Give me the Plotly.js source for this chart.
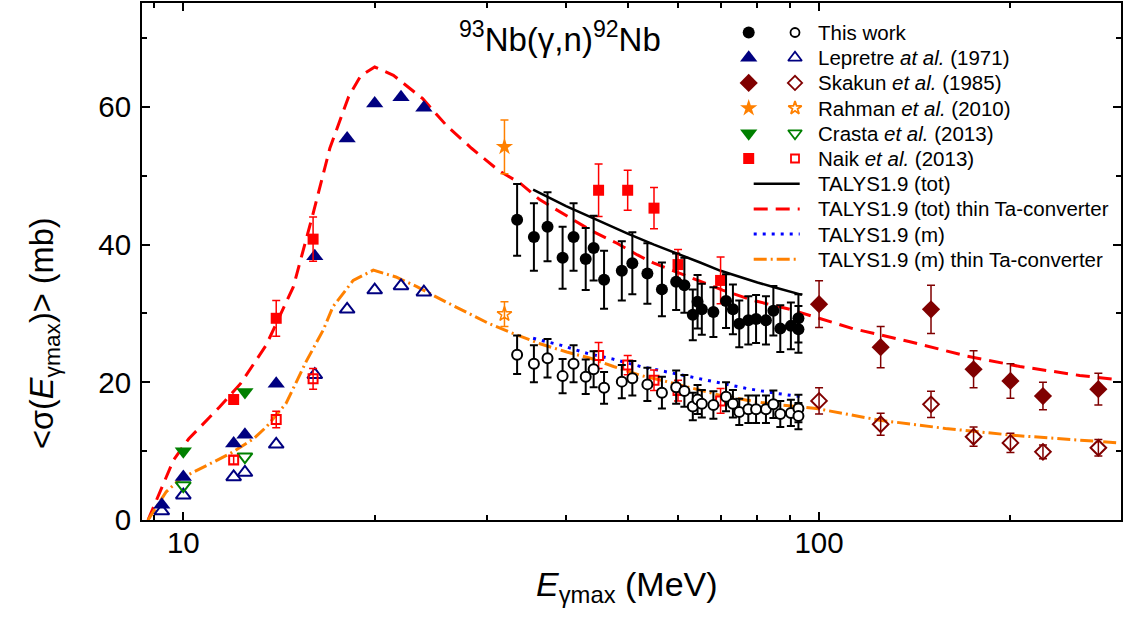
<!DOCTYPE html>
<html>
<head>
<meta charset="utf-8">
<script src="https://cdn.plot.ly/plotly-3.0.1.min.js"></script>
<style>html,body{margin:0;padding:0;background:#fff;}#chart{width:1126px;height:622px;}</style>
</head>
<body>
<div id="chart"></div>
<script>
// ---------------- data ----------------
const thisWorkE = [33.5,35.6,37.4,39.5,41.1,42.95,44.2,45.9,48.95,50.85,53.7,56.6,59.6,61.4,63.3,64.4,65.4,68.2,71.4,73.2,74.9,77.4,79.6,82.5,84.75,86.9,90.3,92.8,92.8];
const thisWorkTot = [43.6,41.1,42.6,38.1,41.1,37.9,39.5,34.9,36.2,37.3,35.8,33.5,34.6,34.1,29.8,31.7,30.6,30.2,31.8,30.6,28.5,29.0,29.2,29.0,30.4,27.8,28.2,29.3,27.7];
const thisWorkTotErr = [5.2,4.9,5.0,4.5,4.9,4.5,4.7,4.2,4.3,4.5,4.4,3.9,4.1,4.0,3.7,3.9,3.7,3.6,3.9,3.6,3.4,3.5,3.5,3.5,3.6,3.4,3.4,3.5,3.4];
const thisWorkM = [24.0,22.7,23.5,20.9,22.7,20.8,21.9,19.2,20.1,20.6,19.7,18.5,19.3,18.75,16.5,17.5,16.9,16.7,17.9,16.9,15.7,16.1,16.1,16.1,16.8,15.4,15.55,16.2,15.1];
const thisWorkMErr = [2.8,2.7,2.8,2.5,2.7,2.5,2.6,2.3,2.4,2.5,2.4,2.3,2.4,2.3,2.0,2.1,2.0,2.0,2.1,2.0,1.9,2.0,2.0,2.0,2.0,1.9,1.9,2.0,1.9];

const lepretreE = [9.25,10,12,12.5,14,16.1,18.1,20,22,23.9];
const lepretreTot = [2.2,6.25,11.1,12.4,19.8,38.3,55.4,60.5,61.4,59.9];
const lepretreM = [1.3,3.6,6.25,6.9,11.0,21.1,30.6,33.4,34.0,33.1];

const skakunE = [100,125,150,175,200,225,275];
const skakunTot = [31.35,25.1,30.6,21.9,20.2,18.0,19.0];
const skakunTotErr = [3.4,3.0,3.5,2.7,2.5,2.0,2.3];
const skakunM = [17.3,13.9,16.8,12.1,11.2,9.9,10.5];
const skakunMErr = [1.9,1.6,1.9,1.4,1.4,1.0,1.2];

const rahmanE = [32];
const rahmanTot = [54.2];
const rahmanTotErr = [3.9];
const rahmanM = [29.9];
const rahmanMErr = [1.8];

const crastaE = [10,12.5];
const crastaTot = [10.0,18.6];
const crastaM = [5.0,9.2];

const naikE = [12,14,16,45,50,55,60,70];
const naikTot = [17.5,29.3,40.8,47.9,47.9,45.3,37.1,34.8];
const naikTotErr = [0.3,2.6,3.2,3.8,2.9,3.0,2.2,3.4];
const naikM = [8.7,14.6,20.5,23.9,22.5,20.3,18.8,17.3];
const naikMErr = [0.6,1.2,1.5,1.9,1.4,1.5,1.5,1.8];

// TALYS curves
const talysTotE = [35.5,40,45,50,55,60,65,70,75,80,85,90,94];
const talysTot  = [48.0,45.6,43.5,41.6,40.0,38.7,37.4,36.2,35.3,34.5,33.8,33.2,32.7];

const talysTotThinE = [8.8,9.3,9.65,10.2,11.4,12.3,13.5,14.9,16.0,17.0,18.2,19.0,20.0,21.4,23.8,26.0,28.4,31.3,33.9,36.4,39.8,43.9,48.1,51.8,55,65,70.5,78.7,90,100,113,139,171,207,257,295];
const talysTotThin  = [0.0,5.3,8.7,11.8,16.4,19.8,25.4,33.9,44.5,54.0,61.5,64.5,65.8,64.6,61.2,57.2,54.0,50.8,48.9,46.5,44.3,42.0,40.2,38.5,37.3,34.6,33.4,31.9,30.6,29.3,27.8,25.9,23.8,22.3,21.0,20.4];

const talysME = [35.5,39.2,43.2,47.3,52.4,59.7,68.2,77,85.5,94];
const talysM  = [26.4,25.4,24.2,23.4,22.3,21.2,20.1,19.1,18.4,17.9];

const talysMThinE = [8.8,9.4,9.9,11.0,11.85,12.9,13.5,14.5,15.6,16.6,17.2,18.5,19.9,21.6,23.3,25.6,27.9,30.3,33.0,36.4,40.1,43.7,47.5,52.4,57.6,63.5,70,77,84.7,99,124.5,158,202,257,295];
const talysMThin  = [0.0,4.1,6.0,8.2,9.65,11.8,13.5,16.9,23.0,27.6,31.0,34.8,36.3,35.3,33.9,31.9,30.2,28.5,27.1,25.6,24.4,23.5,22.3,21.0,20.1,19.1,18.1,17.4,16.8,16.2,14.5,13.3,12.3,11.6,11.2];

const xTickVals = [10,100];
const xTickText = ['10','100'];
const xMinorVals = [9,20,30,40,50,60,70,80,90,200];
const yTickVals = [0,20,40,60];
const yMinorVals = [10,30,50,70];

const legendLabels = ['This work','Lepretre <i>at al.</i> (1971)','Skakun <i>et al.</i> (1985)','Rahman <i>et al.</i> (2010)','Crasta <i>et al.</i> (2013)','Naik <i>et al.</i> (2013)','TALYS1.9 (tot)','TALYS1.9 (tot) thin Ta-converter','TALYS1.9 (m)','TALYS1.9 (m) thin Ta-converter'];

// ---------------- styles ----------------
const FONT = 'Liberation Sans, Arial, sans-serif';
const NAVY = '#000080', DRED = '#800000', ORANGE = '#FF8000', GREEN = '#008000', RED = '#FF0000', BLUE = '#0000FF';

const markerStyles = [
  {filled:{symbol:'circle',size:12,color:'#000'}, open:{symbol:'circle-open',size:10,color:'#000'}},
  {filled:{symbol:'triangle-up',size:15,color:NAVY}, open:{symbol:'triangle-up-open',size:13,color:NAVY}},
  {filled:{symbol:'diamond',size:14,color:DRED}, open:{symbol:'diamond-open',size:12,color:DRED}},
  {filled:{symbol:'star',size:13,color:ORANGE}, open:{symbol:'star-open',size:11,color:ORANGE}},
  {filled:{symbol:'triangle-down',size:15,color:GREEN}, open:{symbol:'triangle-down-open',size:13,color:GREEN}},
  {filled:{symbol:'square',size:11,color:RED}, open:{symbol:'square-open',size:9,color:RED}}
];
const lineStyles = [
  {color:'#000', width:2.5, dash:'solid'},
  {color:RED, width:3, dash:'14px,8px'},
  {color:BLUE, width:3, dash:'3px,6px'},
  {color:ORANGE, width:3, dash:'13px,4px,2px,4px'}
];

function mk(style, lw){
  return {symbol:style.symbol, size:style.size, color:style.color, line:{color:style.color, width:lw}};
}
function err(arr, color, th, w){
  return {type:'data', array:arr, visible:true, color:color, thickness:th, width:w};
}

const traces = [];
// curves
traces.push({x:talysTotThinE, y:talysTotThin, mode:'lines', line:lineStyles[1]});
traces.push({x:talysMThinE, y:talysMThin, mode:'lines', line:lineStyles[3]});
traces.push({x:talysME, y:talysM, mode:'lines', line:lineStyles[2]});
traces.push({x:talysTotE, y:talysTot, mode:'lines', line:lineStyles[0]});

// data sets
traces.push({x:lepretreE, y:lepretreM, mode:'markers', marker:mk(markerStyles[1].open,2)});
traces.push({x:lepretreE, y:lepretreTot, mode:'markers', marker:mk(markerStyles[1].filled,0)});
traces.push({x:crastaE, y:crastaM, mode:'markers', marker:mk(markerStyles[4].open,2)});
traces.push({x:crastaE, y:crastaTot, mode:'markers', marker:mk(markerStyles[4].filled,0)});
traces.push({x:naikE, y:naikM, mode:'markers', marker:mk(markerStyles[5].open,2), error_y:err(naikMErr,RED,1.5,4)});
traces.push({x:naikE, y:naikTot, mode:'markers', marker:mk(markerStyles[5].filled,0), error_y:err(naikTotErr,RED,1.5,4)});
traces.push({x:rahmanE, y:rahmanM, mode:'markers', marker:mk(markerStyles[3].open,1.5), error_y:err(rahmanMErr,ORANGE,1.5,4)});
traces.push({x:rahmanE, y:rahmanTot, mode:'markers', marker:mk(markerStyles[3].filled,0), error_y:err(rahmanTotErr,ORANGE,1.5,4)});
traces.push({x:skakunE, y:skakunM, mode:'markers', marker:mk(markerStyles[2].open,2), error_y:err(skakunMErr,DRED,1.5,4)});
traces.push({x:skakunE, y:skakunTot, mode:'markers', marker:mk(markerStyles[2].filled,0), error_y:err(skakunTotErr,DRED,1.5,4)});
traces.push({x:thisWorkE, y:thisWorkM, mode:'markers', marker:{symbol:'circle', size:10, color:'#fff', line:{color:'#000', width:2}}, error_y:err(thisWorkMErr,'#000',2,4)});
traces.push({x:thisWorkE, y:thisWorkTot, mode:'markers', marker:mk(markerStyles[0].filled,0), error_y:err(thisWorkTotErr,'#000',2,4)});

// ---------------- manual legend (overlay axes in fraction units) ----------------
const PLOT_L = 142, PLOT_R = 1121, PLOT_T = 3, PLOT_B = 520;
const PW = PLOT_R - PLOT_L, PH = PLOT_B - PLOT_T;
const fx = px => (px - PLOT_L) / PW;
const fy = py => 1 - (py - PLOT_T) / PH;
const legRow0 = 32.5, legStep = 25.2;
const legFilledX = fx(748.7), legOpenX = fx(795), legTextX = fx(816);
const legLineX0 = fx(753.7), legLineX1 = fx(799.7);

const annotations = [];
legendLabels.forEach((lab, i) => {
  const yy = fy(legRow0 + legStep * i);
  annotations.push({xref:'paper', yref:'paper', x:legTextX, y:yy, xanchor:'left', yanchor:'middle', text:lab, showarrow:false, font:{family:FONT, size:20.5, color:'#000'}});
  if (i < markerStyles.length) {
    const s = markerStyles[i];
    traces.push({x:[legFilledX], y:[yy], xaxis:'x2', yaxis:'y2', mode:'markers', cliponaxis:false, marker:mk(s.filled,0)});
    traces.push({x:[legOpenX], y:[yy], xaxis:'x2', yaxis:'y2', mode:'markers', cliponaxis:false, marker:{symbol:s.open.symbol, size:s.open.size-1, color:s.open.color, line:{color:s.open.color, width:1.8}}});
  } else {
    const ls = lineStyles[i - markerStyles.length];
    traces.push({x:[legLineX0, legLineX1], y:[yy, yy], xaxis:'x2', yaxis:'y2', mode:'lines', cliponaxis:false, line:ls});
  }
});

// titles
annotations.push({xref:'paper', yref:'paper', x:fx(560), y:fy(37), xanchor:'center', yanchor:'middle', showarrow:false,
  text:'<sup>93</sup>Nb(γ,n)<sup>92</sup>Nb', font:{family:FONT, size:33, color:'#000'}});
annotations.push({xref:'paper', yref:'paper', x:fx(627), y:fy(586), xanchor:'center', yanchor:'middle', showarrow:false,
  text:'<i>E</i><sub>γmax</sub> (MeV)', font:{family:FONT, size:34, color:'#000'}});
annotations.push({xref:'paper', yref:'paper', x:fx(44), y:fy(333), xanchor:'center', yanchor:'middle', textangle:-90, showarrow:false,
  text:'<σ(<i>E</i><sub>γmax</sub>)> (mb)', font:{family:FONT, size:32.5, color:'#000'}});

const axisCommon = {
  ticks:'inside', ticklen:8, tickwidth:2, tickcolor:'#000',
  showline:true, linewidth:2, linecolor:'#000', mirror:'ticks',
  showgrid:false, zeroline:false,
  tickfont:{family:FONT, size:29.5, color:'#000'}
};

const layout = {
  width:1126, height:622,
  margin:{l:PLOT_L, r:1126-PLOT_R, t:PLOT_T, b:622-PLOT_B},
  paper_bgcolor:'#fff', plot_bgcolor:'#fff',
  showlegend:false,
  xaxis: Object.assign({}, axisCommon, {
    type:'log', range:[Math.log10(8.61), Math.log10(298.5)],
    tickmode:'array', tickvals:xTickVals, ticktext:xTickText, ticklabelstandoff:-4,
    minor:{tickmode:'array', tickvals:xMinorVals, ticks:'inside', ticklen:5, tickwidth:2, tickcolor:'#000', showgrid:false}
  }),
  yaxis: Object.assign({}, axisCommon, {
    range:[0, 75.1], tickmode:'array', tickvals:yTickVals, ticklabelstandoff:3,
    minor:{tickmode:'array', tickvals:yMinorVals, ticks:'inside', ticklen:5, tickwidth:2, tickcolor:'#000', showgrid:false}
  }),
  xaxis2:{overlaying:'x', range:[0,1], visible:false, fixedrange:true},
  yaxis2:{overlaying:'y', range:[0,1], visible:false, fixedrange:true},
  annotations: annotations
};

traces.forEach(t => { t.showlegend = false; t.hoverinfo = 'skip'; });

Plotly.newPlot('chart', traces, layout, {displayModeBar:false, staticPlot:true});
</script>
</body>
</html>
